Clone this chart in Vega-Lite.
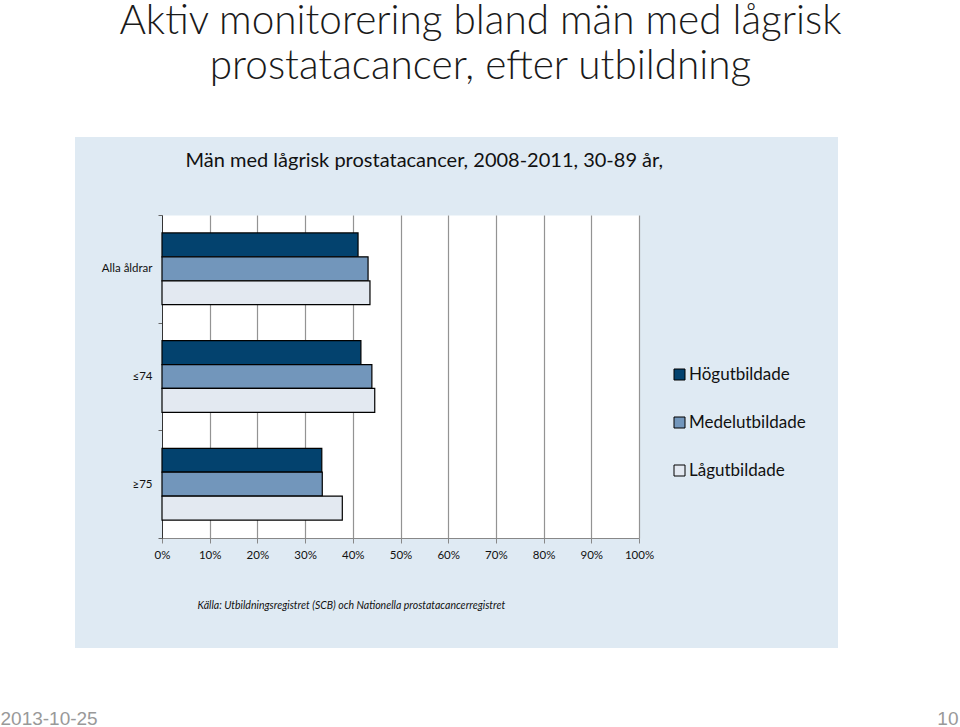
{
  "$schema": "https://vega.github.io/schema/vega-lite/v6.json",
  "width": 763,
  "height": 511,
  "autosize": {"type": "none"},
  "padding": {"left": 75, "top": 137, "right": 122, "bottom": 79},
  "background": "white",
  "title": {
    "text": ["Aktiv monitorering bland män med lågrisk", "prostatacancer, efter utbildning"],
    "font": "Lato",
    "fontSize": 40.5,
    "fontWeight": 300,
    "color": "#1a1a1a",
    "anchor": "middle",
    "dx": 24,
    "offset": 44,
    "lineHeight": 45
  },
  "data": {
    "values": [
      {"category": "Alla åldrar", "group": "Högutbildade", "value": 0.411},
      {"category": "Alla åldrar", "group": "Medelutbildade", "value": 0.432},
      {"category": "Alla åldrar", "group": "Lågutbildade", "value": 0.436},
      {"category": "≤74", "group": "Högutbildade", "value": 0.417},
      {"category": "≤74", "group": "Medelutbildade", "value": 0.440},
      {"category": "≤74", "group": "Lågutbildade", "value": 0.446},
      {"category": "≥75", "group": "Högutbildade", "value": 0.335},
      {"category": "≥75", "group": "Medelutbildade", "value": 0.336},
      {"category": "≥75", "group": "Lågutbildade", "value": 0.378}
    ]
  },
  "layer": [
    {
      "mark": {"type": "point", "opacity": 0},
      "encoding": {
        "x": {
          "field": "value",
          "type": "quantitative",
          "scale": {"domain": [0, 1], "range": [87, 564], "nice": false},
          "axis": {
            "orient": "top",
            "values": [0.5],
            "grid": true,
            "gridColor": "white",
            "gridOpacity": 1,
            "gridWidth": 477,
            "ticks": false,
            "labels": false,
            "domain": false,
            "title": "Män med lågrisk prostatacancer,  2008-2011, 30-89 år,",
            "titleX": 110,
            "titleY": 29,
            "titleAlign": "left",
            "titleBaseline": "alphabetic",
            "titleFont": "Lato",
            "titleFontSize": 20,
            "titleFontWeight": "normal",
            "titleColor": "#111111"
          }
        },
        "y": {
          "field": "category",
          "type": "nominal",
          "scale": {"domain": ["Alla åldrar", "≤74", "≥75"], "range": [78, 401], "paddingInner": 0, "paddingOuter": 0},
          "axis": {
            "orient": "right",
            "domain": false,
            "ticks": false,
            "labels": false,
            "grid": false,
            "title": "10",
            "titleAngle": 0,
            "titleX": 120,
            "titleY": 587,
            "titleAlign": "right",
            "titleBaseline": "alphabetic",
            "titleFont": "Liberation Sans",
            "titleFontSize": 19,
            "titleFontWeight": "normal",
            "titleColor": "#999999"
          }
        }
      }
    },
    {
      "mark": {"type": "point", "opacity": 0},
      "encoding": {
        "x": {
          "field": "value",
          "type": "quantitative",
          "scale": {"domain": [0, 1], "range": [87, 564], "nice": false},
          "axis": {
            "orient": "top",
            "values": [0.1, 0.2, 0.3, 0.4, 0.5, 0.6, 0.7, 0.8, 0.9, 1],
            "grid": true,
            "gridColor": "#939393",
            "gridWidth": 1.2,
            "ticks": false,
            "labels": false,
            "domain": false,
            "title": null
          }
        },
        "y": {
          "field": "category",
          "type": "nominal",
          "scale": {"domain": ["Alla åldrar", "≤74", "≥75"], "range": [78, 401], "paddingInner": 0, "paddingOuter": 0},
          "axis": null
        }
      }
    },
    {
      "mark": {"type": "bar", "stroke": "black", "strokeWidth": 1.2},
      "encoding": {
        "x": {
          "field": "value",
          "type": "quantitative",
          "scale": {"domain": [0, 1], "range": [87, 564], "nice": false},
          "axis": {
            "orient": "bottom",
            "offset": -110,
            "values": [0, 0.1, 0.2, 0.3, 0.4, 0.5, 0.6, 0.7, 0.8, 0.9, 1],
            "format": ".0%",
            "labelFlush": false,
            "grid": false,
            "domainColor": "#888888",
            "tickColor": "#888888",
            "tickSize": 5,
            "labelFont": "Lato",
            "labelFontSize": 11.5,
            "labelColor": "#111111",
            "labelPadding": 6,
            "title": "Källa: Utbildningsregistret (SCB) och Nationella prostatacancerregistret",
            "titleFont": "Lato",
            "titleFontStyle": "italic",
            "titleFontSize": 10.5,
            "titleFontWeight": "normal",
            "titleColor": "#111111",
            "titleX": 122,
            "titleY": 70,
            "titleAlign": "left",
            "titleBaseline": "alphabetic"
          }
        },
        "y": {
          "field": "category",
          "type": "nominal",
          "scale": {"domain": ["Alla åldrar", "≤74", "≥75"], "range": [78, 401], "paddingInner": 0, "paddingOuter": 0},
          "axis": {
            "orient": "left",
            "offset": -87,
            "tickBand": "extent",
            "grid": false,
            "domainColor": "#333333",
            "domainWidth": 1,
            "tickColor": "#666666",
            "tickSize": 4,
            "labelFont": "Lato",
            "labelFontSize": 11.5,
            "labelColor": "#111111",
            "labelPadding": 6,
            "title": "2013-10-25",
            "titleAngle": 0,
            "titleX": -162,
            "titleY": 587,
            "titleAlign": "left",
            "titleBaseline": "alphabetic",
            "titleFont": "Liberation Sans",
            "titleFontSize": 19,
            "titleFontWeight": "normal",
            "titleColor": "#999999"
          }
        },
        "yOffset": {
          "field": "group",
          "type": "nominal",
          "scale": {"domain": ["Högutbildade", "Medelutbildade", "Lågutbildade"], "paddingOuter": 0.75, "paddingInner": 0}
        },
        "color": {
          "field": "group",
          "type": "nominal",
          "scale": {"domain": ["Högutbildade", "Medelutbildade", "Lågutbildade"], "range": ["#03426E", "#7296BB", "#E3E9F1"]},
          "legend": {
            "orient": "none",
            "legendX": 596,
            "legendY": 229,
            "title": null,
            "symbolType": "square",
            "symbolSize": 121,
            "symbolStrokeColor": "black",
            "symbolStrokeWidth": 1,
            "labelFont": "Lato",
            "labelFontSize": 17,
            "labelColor": "#111111",
            "labelOffset": 1,
            "rowPadding": 30
          }
        }
      }
    }
  ],
  "resolve": {"axis": {"x": "independent", "y": "independent"}},
  "config": {
    "view": {"fill": "#DFEAF3", "stroke": null}
  }
}
